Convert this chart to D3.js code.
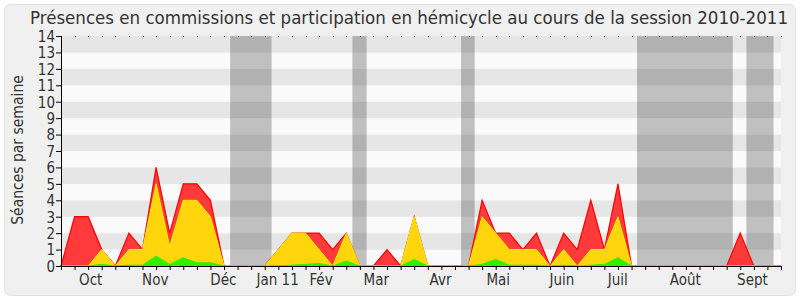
<!DOCTYPE html>
<html><head><meta charset="utf-8">
<script src="https://cdn.jsdelivr.net/npm/d3@7"></script>
<style>body{margin:0;background:#fff}svg text{font-family:"DejaVu Sans Condensed","DejaVu Sans",sans-serif;fill:#333}</style>
</head><body><svg id="c" width="800" height="300"></svg>
<script>
const weeks = d3.range(0, 54);
const red    = [0,3,3,1,0,2,1,6,2,5,5,4,0,0,0,0,1,2,2,2,1,2,0,0,1,0,3,0,0,0,0,4,2,2,1,2,0,2,1,4,1,5,0,0,0,0,0,0,0,0,2,0,0,0];
const yellow = [0,0,0,1,0,1,1,5,1.2,4,4,3,0,0,0,0,1,2,2,1,0,2,0,0,0,0,3,0,0,0,0,3,2,1,1,1,0,1,0,1,1,3,0,0,0,0,0,0,0,0,0,0,0,0];
const green  = [0,0,0,0.1,0,0.05,0.05,0.6,0.1,0.5,0.2,0.2,0,0,0,0,0,0.05,0.1,0.15,0,0.3,0,0,0,0,0.4,0,0,0,0,0.1,0.4,0.05,0.05,0.05,0,0.05,0,0.05,0.1,0.5,0,0,0,0,0,0,0,0,0,0,0,0];
const monthLabels = ["Oct","Nov","Déc","Jan 11","Fév","Mar","Avr","Mai","Juin","Juil","Août","Sept"];
const monthPos    = [2.19,6.94,11.95,15.95,19.14,23.21,27.94,32.19,36.88,40.98,45.95,50.9];
const vacStart = [12.45,21.45,29.45,42.4,50.45];
const vacEnd   = [15.5,22.5,30.45,49.45,52.45];
const yTicks = d3.range(0, 15);
const title = "Présences en commissions et participation en hémicycle au cours de la session 2010-2011";

const svg = d3.select("#c");
const L = 61, R = 781, T = 36, B = 266;
const x = d3.scaleLinear().domain([0, 53]).range([L, R]);
const y = d3.scaleLinear().domain([0, 14]).range([B, T]);

svg.append("rect").attr("x",4.5).attr("y",4.5).attr("width",791).attr("height",291)
  .attr("rx",6).attr("fill","#f0f0f0").attr("stroke","#e0e0e0");

svg.append("text").attr("x",409).attr("y",24).attr("text-anchor","middle")
  .attr("font-size",17).attr("textLength",758).attr("lengthAdjust","spacingAndGlyphs").text(title);

// stripes
svg.append("g").selectAll("rect").data(d3.range(0,14)).join("rect")
  .attr("x",L).attr("width",R-L).attr("y",d=>y(d+1)).attr("height",d=>y(d)-y(d+1))
  .attr("fill",d=>d%2 ? "#e6e6e6" : "#fafafa");

// vacation bands
svg.append("g").selectAll("rect").data(vacStart).join("rect")
  .attr("x",(d)=>x(d)).attr("width",(d,i)=>x(vacEnd[i])-x(d))
  .attr("y",T).attr("height",B-T).attr("fill","rgba(20,20,20,0.25)");

const area = vals => d3.area().x((d,i)=>x(weeks[i])).y0(y(0)).y1(d=>y(d))(vals);
svg.append("path").attr("d",area(red)).attr("fill","#ff3a3a").attr("stroke","#ff0000").attr("stroke-width",1.2);
svg.append("path").attr("d",area(yellow)).attr("fill","#ffd50c").attr("stroke","#ffee00").attr("stroke-width",1);
svg.append("path").attr("d",area(green)).attr("fill","#33ee00").attr("stroke","#33ee00").attr("stroke-width",1);

// top dots
svg.append("g").selectAll("rect").data(weeks).join("rect")
  .attr("x",d=>Math.round(x(d))).attr("y",T).attr("width",1).attr("height",1).attr("fill","#000");

// axes
const ya = svg.append("g").attr("transform",`translate(${L},0)`)
  .call(d3.axisLeft(y).tickValues(yTicks).tickSize(5).tickFormat(d3.format("d")));
ya.select(".domain").attr("stroke","#000");
ya.selectAll("text").attr("font-size",15).attr("x",-6).attr("dy","0.36em");
const xa = svg.append("g").attr("transform",`translate(0,${B})`)
  .call(d3.axisBottom(x).tickValues(weeks).tickSize(4).tickFormat(""));
xa.select(".domain").attr("stroke","#000");
svg.append("g").selectAll("text").data(monthLabels).join("text")
  .attr("x",(d,i)=>x(monthPos[i])).attr("y",285).attr("text-anchor","middle")
  .attr("font-size",15).text(d=>d);

svg.append("text").attr("transform","translate(23,150) rotate(-90)").attr("text-anchor","middle")
  .attr("font-size",15.5).text("Séances par semaine");
</script></body></html>
